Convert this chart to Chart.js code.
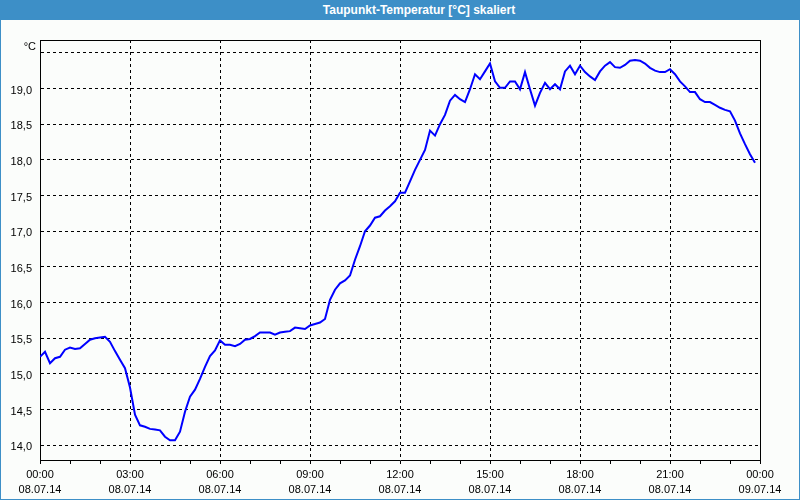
<!DOCTYPE html>
<html>
<head>
<meta charset="utf-8">
<script src="https://cdn.jsdelivr.net/npm/chart.js@4/dist/chart.umd.min.js"></script>
<style>
  html, body { margin: 0; padding: 0; background: #fbfdfb; }
  #wrap { position: relative; width: 800px; height: 500px; overflow: hidden; }
  #chart { position: absolute; left: 0; top: 0; }
  #title {
    position: absolute; left: 0; top: 0; width: 800px; height: 20px;
    box-sizing: border-box; padding-left: 38px;
    background: rgb(61,143,199); color: #fff;
    font: bold 12px "Liberation Sans", Arial, sans-serif; line-height: 20px;
    text-align: center;
  }
  #unit {
    position: absolute; left: 0; top: 40px; width: 36px; text-align: right;
    font: 11px "Liberation Sans", Arial, sans-serif; line-height: 12px; color: #000;
  }
  #frame {
    position: absolute; left: 0; top: 0; width: 800px; height: 500px;
    box-sizing: border-box; border: 1px solid rgb(61,143,199); pointer-events: none;
  }
</style>
</head>
<body>
<div id="wrap">
  <canvas id="chart" width="800" height="500"></canvas>
  <div id="title">Taupunkt-Temperatur [°C] skaliert</div>
  <div id="unit">°C</div>
  <div id="frame"></div>
</div>
<script>
// ---- data ----
const times = [
  "00:00","00:10","00:20","00:30","00:40","00:50",
  "01:00","01:10","01:20","01:30","01:40","01:50",
  "02:00","02:10","02:20","02:30","02:40","02:50",
  "03:00","03:10","03:20","03:30","03:40","03:50",
  "04:00","04:10","04:20","04:30","04:40","04:50",
  "05:00","05:10","05:20","05:30","05:40","05:50",
  "06:00","06:10","06:20","06:30","06:40","06:50",
  "07:00","07:10","07:20","07:30","07:40","07:50",
  "08:00","08:10","08:20","08:30","08:40","08:50",
  "09:00","09:10","09:20","09:30","09:40","09:50",
  "10:00","10:10","10:20","10:30","10:40","10:50",
  "11:00","11:10","11:20","11:30","11:40","11:50",
  "12:00","12:10","12:20","12:30","12:40","12:50",
  "13:00","13:10","13:20","13:30","13:40","13:50",
  "14:00","14:10","14:20","14:30","14:40","14:50",
  "15:00","15:10","15:20","15:30","15:40","15:50",
  "16:00","16:10","16:20","16:30","16:40","16:50",
  "17:00","17:10","17:20","17:30","17:40","17:50",
  "18:00","18:10","18:20","18:30","18:40","18:50",
  "19:00","19:10","19:20","19:30","19:40","19:50",
  "20:00","20:10","20:20","20:30","20:40","20:50",
  "21:00","21:10","21:20","21:30","21:40","21:50",
  "22:00","22:10","22:20","22:30","22:40","22:50",
  "23:00","23:10","23:20","23:30","23:40","23:50"
];
const dewPoint = [
  15.24,15.31,15.15,15.22,15.24,15.34,15.37,15.35,15.36,15.42,
  15.48,15.50,15.51,15.52,15.45,15.32,15.20,15.08,14.81,14.43,
  14.28,14.26,14.23,14.22,14.21,14.12,14.07,14.07,14.19,14.47,
  14.68,14.78,14.93,15.10,15.25,15.33,15.47,15.41,15.41,15.39,
  15.42,15.48,15.49,15.53,15.58,15.58,15.58,15.55,15.58,15.59,
  15.60,15.65,15.64,15.63,15.68,15.70,15.72,15.77,16.04,16.18,
  16.27,16.31,16.38,16.60,16.79,17.00,17.08,17.19,17.21,17.29,
  17.35,17.42,17.54,17.54,17.70,17.86,18.00,18.14,18.41,18.34,
  18.50,18.63,18.83,18.91,18.85,18.81,18.99,19.20,19.13,19.24,
  19.35,19.10,19.01,19.01,19.10,19.10,18.99,19.23,18.99,18.76,
  18.94,19.08,18.99,19.06,18.99,19.24,19.32,19.20,19.32,19.23,
  19.17,19.12,19.24,19.32,19.37,19.30,19.29,19.33,19.39,19.40,
  19.39,19.35,19.29,19.25,19.23,19.23,19.27,19.20,19.10,19.03,
  18.95,18.95,18.85,18.81,18.81,18.77,18.73,18.70,18.68,18.55,
  18.37,18.22,18.08,17.96
];
const xTickTimes = ["00:00","03:00","06:00","09:00","12:00","15:00","18:00","21:00","00:00"];
const xTickDates = ["08.07.14","08.07.14","08.07.14","08.07.14","08.07.14","08.07.14","08.07.14","08.07.14","09.07.14"];
const yTickValues = [14.0,14.5,15.0,15.5,16.0,16.5,17.0,17.5,18.0,18.5,19.0,19.5];
const yTickLabels = ["14,0","14,5","15,0","15,5","16,0","16,5","17,0","17,5","18,0","18,5","19,0",""];
const yMin = 13.794, yMax = 19.68;

// ---- helpers ----
const toMin = s => { const p = s.split(':'); return (+p[0]) * 60 + (+p[1]); };
const points = times.map((t, i) => ({ x: toMin(t), y: dewPoint[i] }));
const FONT = { family: '"Liberation Sans", Arial, sans-serif', size: 11, lineHeight: 15 / 11 };

const bgPlugin = {
  id: 'bg',
  beforeDraw(chart) {
    const c = chart.ctx;
    c.save(); c.fillStyle = '#fbfdfb'; c.fillRect(0, 0, chart.width, chart.height); c.restore();
  },
  afterDraw(chart) {
    const a = chart.chartArea, c = chart.ctx;
    c.save(); c.strokeStyle = '#000'; c.lineWidth = 1;
    c.beginPath();
    c.moveTo(a.left + 0.5, a.top + 0.5); c.lineTo(a.right + 0.5, a.top + 0.5);
    c.lineTo(a.right + 0.5, a.bottom + 0.5);
    c.stroke(); c.restore();
  }
};

new Chart(document.getElementById('chart'), {
  type: 'line',
  data: {
    datasets: [{
      data: points,
      borderColor: '#0000ff',
      borderWidth: 2,
      pointRadius: 0,
      tension: 0,
      fill: false
    }]
  },
  options: {
    responsive: false,
    animation: false,
    devicePixelRatio: 1,
    layout: { padding: { top: 40, right: 40, left: 0, bottom: 0 } },
    plugins: { legend: { display: false }, title: { display: false }, tooltip: { enabled: false } },
    scales: {
      x: {
        type: 'linear', min: 0, max: 1440,
        afterFit(s) { s.height = 40; },
        afterBuildTicks(s) {
          const t = []; for (let i = 0; i < xTickTimes.length * 3 - 2; i++) t.push({ value: i * 60 });
          s.ticks = t;
        },
        ticks: {
          autoSkip: false, maxRotation: 0, minRotation: 0, padding: 3,
          color: '#000', font: FONT,
          callback(v) { const i = v / 180; return Number.isInteger(i) ? [xTickTimes[i], xTickDates[i]] : ''; }
        },
        grid: {
          color: c => (c.tick && c.tick.value % 180 === 0) ? '#000' : 'rgba(0,0,0,0)',
          tickColor: '#000', tickLength: 4, tickWidth: 1, tickBorderDash: [], lineWidth: 1
        },
        border: { display: true, color: '#000', width: 1, dash: [3, 3] }
      },
      y: {
        type: 'linear', min: yMin, max: yMax,
        afterFit(s) { s.width = 40; },
        afterBuildTicks(s) { s.ticks = yTickValues.map(v => ({ value: v })); },
        ticks: {
          padding: 8, labelOffset: 2, color: '#000', font: FONT,
          callback(v, i) { return yTickLabels[i]; }
        },
        grid: { color: '#000', drawTicks: false, lineWidth: 1 },
        border: { display: true, color: '#000', width: 1, dash: [3, 3] }
      }
    }
  },
  plugins: [bgPlugin]
});
</script>
</body>
</html>
